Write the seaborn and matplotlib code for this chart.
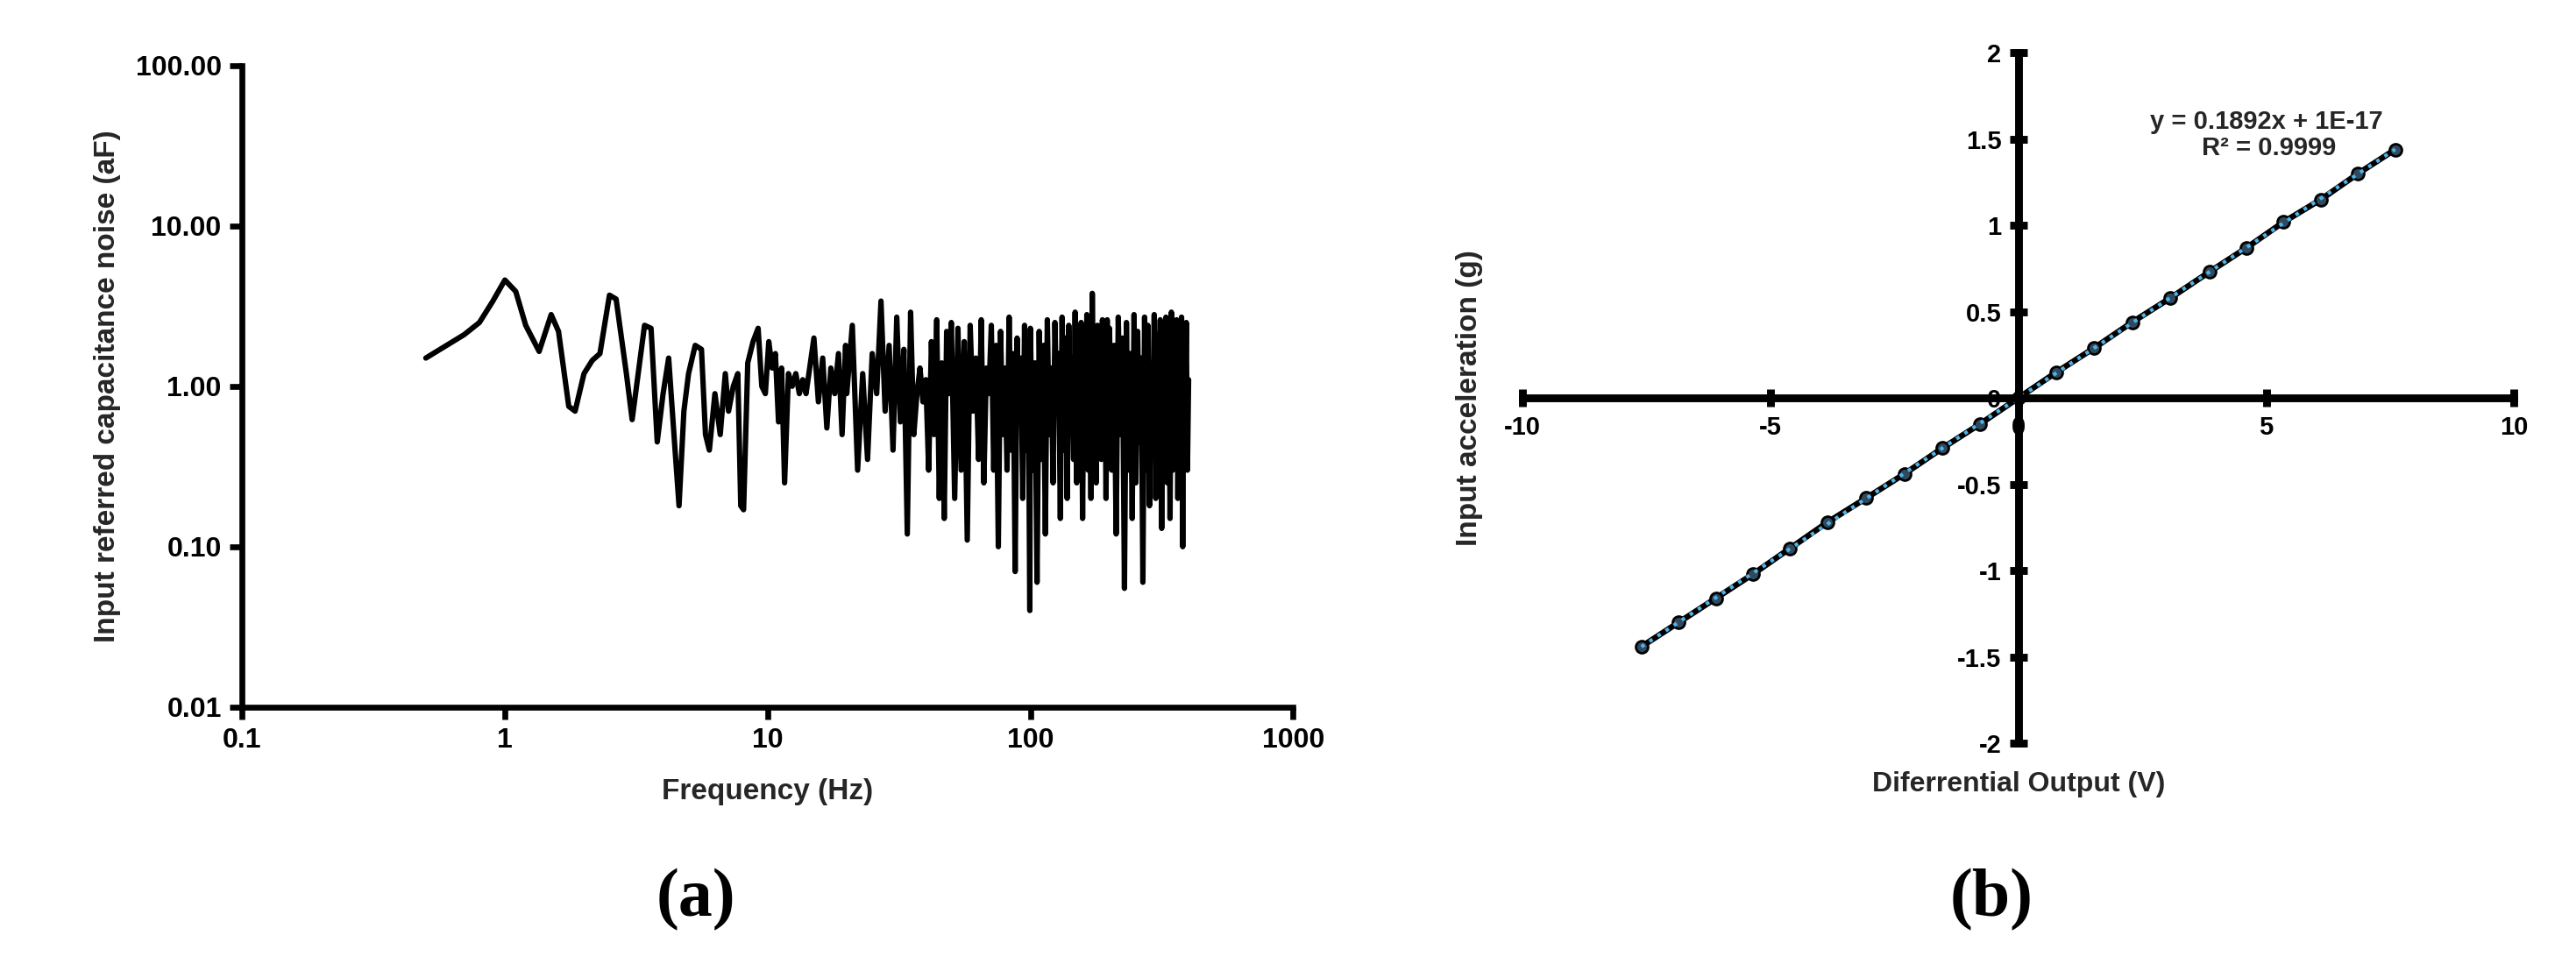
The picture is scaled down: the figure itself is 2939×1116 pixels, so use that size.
import matplotlib
matplotlib.use("Agg")
import matplotlib.pyplot as plt
import matplotlib.ticker as mticker
import numpy as np
import seaborn as sns

sns.set_theme(style="white")
plt.rcParams["font.family"] = ["Liberation Sans", "DejaVu Sans"]
plt.rcParams["font.weight"] = "bold"
plt.rcParams["axes.unicode_minus"] = False

# (a) input referred capacitance noise
freq_hz = [
    0.5, 0.6, 0.7, 0.8, 0.9, 1.0, 1.1, 1.2, 1.35, 1.5, 1.6, 1.75, 1.85, 2.0, 2.15, 2.3,
    2.5, 2.65, 2.9, 3.05, 3.4, 3.6, 3.8, 4.0, 4.2, 4.4, 4.6, 4.8, 5.0, 5.3, 5.6, 5.8,
    6.0, 6.3, 6.6, 6.9, 7.1, 7.4, 7.7, 7.9, 8.1, 8.4, 8.8, 9.2, 9.5, 9.8, 10.1, 10.4,
    10.7, 11.0, 11.3, 11.6, 12.0, 12.4, 12.8, 13.2, 13.6, 14.0,
    15.0, 15.6, 16.2, 16.8, 17.4, 18.0, 18.6, 19.2, 19.8,
    20, 21, 22, 23, 24, 25, 26, 27, 28, 29, 30, 31, 32, 33, 34, 35, 36, 37, 38, 39,
    40, 41, 42, 43, 44, 45, 46, 47, 48, 49,
    50, 51.5, 53, 54.5, 56, 57.5, 59, 60.5, 62, 63.5, 65, 66.5, 68, 69.5, 71, 72.5,
    74, 75.5, 77, 78.5, 80, 81.5, 83, 84.5, 86, 87.5, 89, 90.5, 92, 93.5, 95, 96.5,
    98, 99.5,
    100, 102, 104, 106, 108, 110, 112, 114, 116, 118, 120, 122, 124, 126, 128, 130,
    132, 134, 136, 138, 140, 142, 144, 146, 148, 150, 152, 154, 156, 158, 160, 162,
    164, 166, 168, 170, 172, 174, 176, 178, 180, 182, 184, 186, 188, 190, 192, 194,
    196, 198,
    200, 204, 208, 212, 216, 220, 224, 228, 232, 236, 240, 244, 248, 252, 256, 260,
    264, 268, 272, 276, 280, 284, 288, 292, 296, 300, 304, 308, 312, 316, 320, 324,
    328, 332, 336, 340, 344, 348, 352, 356, 360, 364, 368, 372, 376, 380, 384, 388,
    392, 396, 400,
]
noise_af = [
    1.5, 1.8, 2.1, 2.5, 3.4, 4.6, 3.9, 2.4, 1.65, 2.8, 2.2, 0.75, 0.7, 1.2, 1.45, 1.6,
    3.7, 3.5, 1.2, 0.62, 2.4, 2.3, 0.45, 0.9, 1.5, 0.5, 0.18, 0.7, 1.2, 1.8, 1.7, 0.5,
    0.4, 0.9, 0.5, 1.2, 0.7, 1.0, 1.2, 0.18, 0.17, 1.4, 1.9, 2.3, 1.0, 0.9, 1.9, 1.3,
    1.6, 0.6, 1.3, 0.25, 1.2, 1.0, 1.2, 0.9, 1.1, 0.9,
    2.0, 0.8, 1.5, 0.55, 1.3, 0.9, 1.6, 0.5, 1.8,
    0.9, 2.4, 0.3, 1.2, 0.35, 1.6, 0.9, 3.4, 0.7, 1.8, 0.4, 2.7, 0.6, 1.7, 0.12, 2.9,
    0.5, 0.9, 1.3, 0.8, 1.1, 0.3, 1.9, 0.5, 2.6, 0.2, 1.4, 0.15, 2.2, 0.9,
    2.5, 0.2, 2.3, 0.3, 1.9, 0.11, 2.4, 0.7, 1.5, 0.35, 2.6, 0.25, 1.3, 0.9, 2.4, 0.3,
    1.8, 0.1, 2.2, 0.5, 1.3, 0.3, 2.7, 0.4, 1.6, 0.07, 2.0, 0.6, 1.5, 0.2, 2.4, 0.4,
    1.9, 0.04,
    2.3, 0.3, 1.4, 0.06, 2.2, 0.35, 1.8, 0.12, 2.6, 0.5, 1.3, 0.25, 2.5, 0.7, 1.6, 0.15,
    2.7, 0.4, 2.0, 0.2, 2.4, 0.6, 1.1, 0.35, 2.9, 0.25, 1.7, 0.5, 2.5, 0.15, 2.2, 0.4,
    2.8, 0.3, 1.4, 0.2, 3.8, 0.6, 2.1, 0.25, 2.4, 0.7, 1.2, 0.35, 2.6, 0.5, 1.5, 0.2,
    2.6, 0.4,
    2.3, 0.3, 1.8, 0.12, 2.7, 0.5, 2.0, 0.055, 2.5, 0.3, 1.6, 0.15, 2.8, 0.25, 2.2, 0.45,
    1.5, 0.06, 2.7, 0.3, 2.4, 0.18, 1.3, 0.55, 2.8, 0.2, 2.1, 0.35, 2.6, 0.13, 1.8, 0.4,
    2.7, 0.25, 2.3, 0.15, 2.9, 0.3, 2.0, 0.45, 2.6, 0.2, 1.4, 0.35, 2.7, 0.1, 2.3, 0.6,
    2.5, 0.3, 1.1,
]

# (b) calibration points
diff_output_v = [-7.6, -6.85, -6.1, -5.35, -4.6, -3.85, -3.07, -2.3, -1.53, -0.77, 0.0,
                 0.77, 1.53, 2.3, 3.07, 3.85, 4.6, 5.35, 6.1, 6.85, 7.6]
accel_g = [-1.44, -1.30, -1.16, -1.02, -0.87, -0.72, -0.58, -0.44, -0.29, -0.15, 0.0,
           0.15, 0.29, 0.44, 0.58, 0.73, 0.87, 1.02, 1.15, 1.30, 1.44]

W, H, DPI = 2939, 1116, 200
fig = plt.figure(figsize=(W / DPI, H / DPI), dpi=DPI)
ax1 = fig.add_axes([0.094, 0.277, 0.408, 0.656])
ax2 = fig.add_axes([0.591, 0.240, 0.385, 0.706])

tick_fs = 11.5
spine_w = 2.4

# ---- panel (a)
sns.lineplot(x=freq_hz, y=noise_af, ax=ax1, estimator=None, sort=False,
             color="black", linewidth=2.2)
ax1.set_xscale("log")
ax1.set_yscale("log")
ax1.set_xlim(0.1, 1000)
ax1.set_ylim(0.01, 100)
ax1.set_xticks([0.1, 1, 10, 100, 1000])
ax1.set_xticklabels(["0.1", "1", "10", "100", "1000"])
ax1.set_yticks([0.01, 0.1, 1, 10, 100])
ax1.yaxis.set_major_formatter(mticker.FormatStrFormatter("%.2f"))
ax1.xaxis.set_minor_locator(mticker.NullLocator())
ax1.yaxis.set_minor_locator(mticker.NullLocator())
for s in ["top", "right"]:
    ax1.spines[s].set_visible(False)
for s in ["left", "bottom"]:
    ax1.spines[s].set_linewidth(spine_w)
    ax1.spines[s].set_color("black")
ax1.tick_params(which="major", direction="out", length=5, width=spine_w,
                labelsize=tick_fs, colors="black", left=True, bottom=True)
for lab in ax1.get_xticklabels() + ax1.get_yticklabels():
    lab.set_fontweight("bold")
ax1.set_xlabel("Frequency (Hz)", fontsize=12, fontweight="bold", labelpad=10)
ax1.set_ylabel("Input referred capacitance noise (aF)", fontsize=12,
               fontweight="bold", labelpad=6)

# ---- panel (b)
sns.lineplot(x=diff_output_v, y=accel_g, ax=ax2, estimator=None, color="black",
             linewidth=2.4, marker="o", markersize=5, markerfacecolor="#2f4a5e",
             markeredgecolor="black", markeredgewidth=1.0)
sns.regplot(x=np.array(diff_output_v), y=np.array(accel_g), ax=ax2, scatter=False,
            ci=None, truncate=True,
            line_kws=dict(color="#4fb3e8", linestyle=":", linewidth=1.5))
ax2.set_xlim(-10, 10)
ax2.set_ylim(-2, 2)
ax2.set_xticks([-10, -5, 0, 5, 10])
ax2.set_xticklabels(["-10", "-5", "0", "5", "10"])
ax2.set_yticks([-2, -1.5, -1, -0.5, 0, 0.5, 1, 1.5, 2])
ax2.set_yticklabels(["-2", "-1.5", "-1", "-0.5", "0", "0.5", "1", "1.5", "2"])
ax2.spines["left"].set_position("zero")
ax2.spines["bottom"].set_position("zero")
for s in ["top", "right"]:
    ax2.spines[s].set_visible(False)
for s in ["left", "bottom"]:
    ax2.spines[s].set_linewidth(spine_w + 0.8)
    ax2.spines[s].set_color("black")
ax2.tick_params(which="major", direction="inout", length=7, width=spine_w + 0.8,
                labelsize=tick_fs - 1, colors="black", left=True, bottom=True)
for lab in ax2.get_xticklabels() + ax2.get_yticklabels():
    lab.set_fontweight("bold")
ax2.set_xlabel("Diferrential Output (V)", fontsize=11.5, fontweight="bold")
ax2.xaxis.set_label_coords(0.5, -0.04)
ax2.set_ylabel("Input acceleration (g)", fontsize=12, fontweight="bold")
ax2.yaxis.set_label_coords(-0.04, 0.5)
ax2.text(5.0, 1.60, "y = 0.1892x + 1E-17", ha="center", va="center",
         fontsize=10.5, fontweight="bold")
ax2.text(5.05, 1.45, "R² = 0.9999", ha="center", va="center",
         fontsize=10.5, fontweight="bold")

# panel letters
for x, letter in [(0.27, "a"), (0.773, "b")]:
    fig.text(x, 0.08, f"({letter})", ha="center", va="center", fontsize=28,
             fontweight="bold", color="black",
             family=["Liberation Serif", "DejaVu Serif"])

fig.savefig("out.png", dpi=DPI, facecolor="white")
